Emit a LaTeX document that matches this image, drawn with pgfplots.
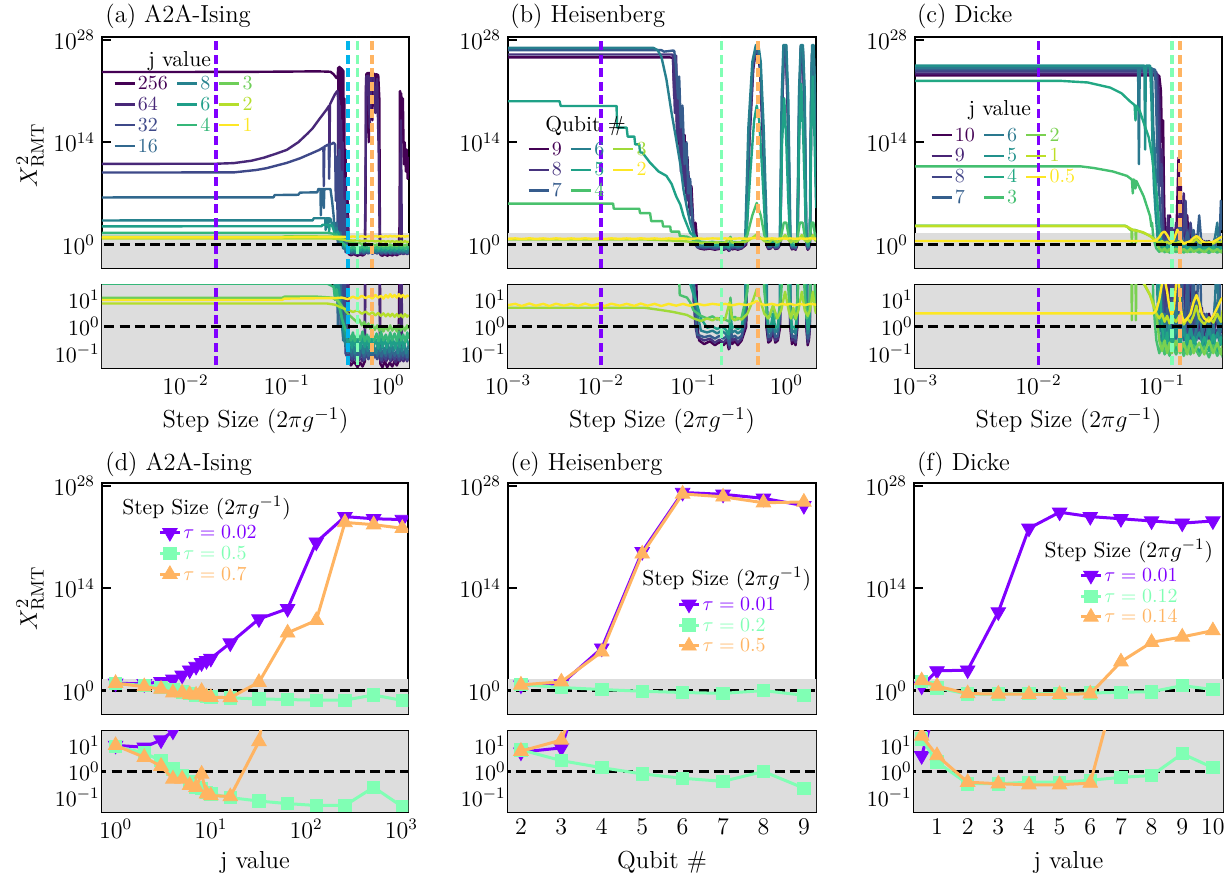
\documentclass[border=0pt]{standalone}
\usepackage{pgfplots}
\usepackage{pgfplotstable}
\pgfplotsset{compat=1.18}

% reference step sizes (rainbow colours)
\definecolor{purp}{HTML}{8000FF}
\definecolor{mint}{HTML}{80FFB4}
\definecolor{orng}{HTML}{FFB462}
\definecolor{cyn}{HTML}{00B4EB}
\definecolor{shade}{HTML}{DDDDDD}
% viridis, 10 colours (A2A-Ising, j = 256 ... 1)
\definecolor{va0}{HTML}{440154}\definecolor{va1}{HTML}{482878}\definecolor{va2}{HTML}{3E4989}
\definecolor{va3}{HTML}{31688E}\definecolor{va4}{HTML}{26828E}\definecolor{va5}{HTML}{1F9E89}
\definecolor{va6}{HTML}{35B779}\definecolor{va7}{HTML}{6ECE58}\definecolor{va8}{HTML}{B5DE2B}
\definecolor{va9}{HTML}{FDE725}
% viridis, 8 colours (Heisenberg, 9 ... 2 qubits)
\definecolor{vb0}{HTML}{440154}\definecolor{vb1}{HTML}{46337E}\definecolor{vb2}{HTML}{365C8D}
\definecolor{vb3}{HTML}{277F8E}\definecolor{vb4}{HTML}{1FA187}\definecolor{vb5}{HTML}{4AC16D}
\definecolor{vb6}{HTML}{A0DA39}\definecolor{vb7}{HTML}{FDE725}
% viridis, 11 colours (Dicke, j = 10 ... 0.5)
\definecolor{vc0}{HTML}{440154}\definecolor{vc1}{HTML}{482475}\definecolor{vc2}{HTML}{414487}
\definecolor{vc3}{HTML}{355F8D}\definecolor{vc4}{HTML}{2A788E}\definecolor{vc5}{HTML}{21918C}
\definecolor{vc6}{HTML}{22A884}\definecolor{vc7}{HTML}{44BF70}\definecolor{vc8}{HTML}{7AD151}
\definecolor{vc9}{HTML}{BDDF26}\definecolor{vc10}{HTML}{FDE725}

% ---------------- (a) A2A-Ising: chi^2 vs step size ----------------
\pgfplotstableread[row sep=\\]{x y\\
0.0015 4e23\\ 0.01 4.1e23\\ 0.05 4.3e23\\ 0.1 4.6e23\\ 0.2 5e23\\ 0.27 4.4e23\\ 0.29 2e23\\ 0.31 6e22\\ 0.318 1e23\\
0.322 1.6e24\\ 0.325 1e12\\ 0.328 2e24\\ 0.331 1e15\\ 0.334 2e24\\ 0.337 1e9\\ 0.340 1.6e24\\ 0.343 1e16\\ 0.346 1.3e24\\
0.350 1e6\\ 0.354 1e24\\ 0.358 1e3\\ 0.362 6e23\\ 0.366 10\\ 0.370 1e20\\ 0.375 0.3\\ 0.380 1e13\\ 0.390 0.08\\ 0.400 1e6\\ 0.410 0.05\\
0.43 0.035\\ 0.46 0.05\\ 0.50 0.03\\ 0.53 0.045\\ 0.56 0.032\\ 0.59 0.05\\ 0.60 1e6\\ 0.605 1e22\\ 0.61 2e23\\ 0.63 3e23\\
0.645 1e14\\ 0.655 3e23\\ 0.68 2.5e23\\ 0.70 1e17\\ 0.71 2.5e23\\ 0.74 2e23\\ 0.76 1e19\\ 0.77 2e23\\ 0.80 1.5e23\\ 0.82 1e20\\
0.83 1e3\\ 0.84 0.04\\ 0.88 0.03\\ 0.93 0.05\\ 0.98 0.03\\ 1.04 0.045\\ 1.10 0.032\\ 1.16 0.05\\ 1.22 0.035\\ 1.27 0.05\\
1.30 1e3\\ 1.31 1e21\\ 1.32 1e21\\ 1.33 1e12\\ 1.35 5e20\\ 1.37 1e14\\ 1.40 1e20\\ 1.43 1e11\\ 1.46 1e14\\ 1.50 1e10\\
1.53 1e13\\ 1.56 1e9\\ 1.60 1e12\\
}\tAa
\pgfplotstableread[row sep=\\]{x y\\
0.0015 1.1e11\\ 0.02 1.15e11\\ 0.03 1.4e11\\ 0.045 3e11\\ 0.06 8e11\\ 0.08 3e12\\ 0.1 9e12\\ 0.13 1e14\\ 0.16 1.5e15\\
0.18 8e15\\ 0.21 1.5e17\\ 0.245 2.5e18\\ 0.262 1e19\\ 0.264 1e12\\ 0.267 1.5e19\\ 0.28 6e19\\ 0.30 4e20\\ 0.315 1e21\\ 0.32 6e20\\
0.323 1e8\\ 0.327 5e19\\ 0.331 1e4\\ 0.335 1e19\\ 0.34 10\\ 0.345 1e17\\ 0.35 1\\ 0.357 1e14\\ 0.365 0.3\\ 0.375 1e9\\
0.385 0.1\\ 0.395 1e4\\ 0.41 0.07\\ 0.44 0.05\\ 0.47 0.08\\ 0.50 0.045\\ 0.53 0.07\\ 0.56 0.05\\ 0.59 0.08\\ 0.60 1e10\\
0.61 1e23\\ 0.64 1.2e23\\ 0.66 1e16\\ 0.68 1e23\\ 0.72 8e22\\ 0.75 1e18\\ 0.78 5e22\\ 0.81 1e12\\ 0.83 0.06\\ 0.87 0.045\\
0.91 0.07\\ 0.96 0.05\\ 1.01 0.08\\ 1.07 0.05\\ 1.13 0.07\\ 1.19 0.045\\ 1.25 0.07\\ 1.31 0.05\\ 1.34 1e17\\ 1.37 0.06\\
1.42 0.05\\ 1.48 0.08\\ 1.54 0.05\\ 1.60 0.07\\
}\tAb
\pgfplotstableread[row sep=\\]{x y\\
0.0015 7.2e9\\ 0.03 7.5e9\\ 0.05 1.6e10\\ 0.063 2.8e10\\ 0.1 1.5e11\\ 0.135 6.3e11\\ 0.17 2.5e12\\ 0.21 9e12\\ 0.23 2e13\\
0.232 1e8\\ 0.235 2.5e13\\ 0.25 4e13\\ 0.26 5e13\\ 0.262 1e9\\ 0.265 5e13\\ 0.28 6.3e13\\ 0.29 9e13\\ 0.30 5e13\\ 0.305 1e6\\
0.31 1e12\\ 0.32 10\\ 0.33 1e13\\ 0.34 1\\ 0.35 1e10\\ 0.36 0.5\\ 0.37 1e6\\ 0.38 0.1\\ 0.40 0.07\\ 0.42 0.09\\ 0.44 0.06\\
0.46 0.1\\ 0.48 0.055\\ 0.50 0.09\\ 0.52 0.06\\ 0.55 0.1\\ 0.58 0.055\\ 0.61 0.09\\ 0.64 0.06\\ 0.67 0.1\\ 0.70 0.055\\
0.74 0.09\\ 0.78 0.06\\ 0.82 0.1\\ 0.86 0.055\\ 0.90 0.09\\ 0.95 0.06\\ 1.00 0.1\\ 1.05 0.055\\ 1.10 0.09\\ 1.16 0.06\\
1.22 0.1\\ 1.28 0.055\\ 1.34 0.09\\ 1.40 0.06\\ 1.47 0.1\\ 1.54 0.055\\ 1.60 0.09\\
}\tAc
\pgfplotstableread[row sep=\\]{x y\\
0.0015 2.8e6\\ 0.074 2.9e6\\ 0.076 6e6\\ 0.13 6.5e6\\ 0.135 1.3e7\\ 0.2 1.4e7\\ 0.205 4e7\\ 0.215 4e7\\ 0.217 1e4\\
0.22 4e7\\ 0.23 4e7\\ 0.232 1e5\\ 0.235 4e7\\ 0.27 4e7\\ 0.28 1e6\\ 0.29 1e4\\ 0.30 10\\ 0.31 1e3\\ 0.32 1\\ 0.34 50\\
0.36 0.3\\ 0.38 5\\ 0.40 0.1\\ 0.42 0.14\\ 0.44 0.08\\ 0.46 0.15\\ 0.48 0.07\\ 0.50 0.13\\ 0.52 0.08\\ 0.55 0.15\\
0.58 0.075\\ 0.61 0.14\\ 0.64 0.08\\ 0.67 0.13\\ 0.70 0.07\\ 0.74 0.15\\ 0.78 0.08\\ 0.82 0.14\\ 0.86 0.075\\ 0.90 0.13\\
0.95 0.08\\ 1.00 0.15\\ 1.05 0.07\\ 1.10 0.14\\ 1.16 0.08\\ 1.22 0.13\\ 1.28 0.075\\ 1.34 0.15\\ 1.40 0.08\\ 1.47 0.14\\
1.54 0.07\\ 1.60 0.13\\
}\tAd
\pgfplotstableread[row sep=\\]{x y\\
0.0015 2e3\\ 0.18 2.05e3\\ 0.185 4e3\\ 0.24 4e3\\ 0.242 100\\ 0.245 4e3\\ 0.255 4e3\\ 0.257 200\\ 0.26 4e3\\ 0.27 3.5e3\\
0.28 500\\ 0.29 1e3\\ 0.30 50\\ 0.31 200\\ 0.32 5\\ 0.33 30\\ 0.35 1\\ 0.37 0.3\\ 0.39 0.15\\ 0.41 0.22\\ 0.43 0.11\\
0.45 0.25\\ 0.47 0.1\\ 0.49 0.2\\ 0.51 0.12\\ 0.54 0.25\\ 0.57 0.1\\ 0.60 0.22\\ 0.63 0.12\\ 0.66 0.25\\ 0.69 0.11\\
0.72 0.2\\ 0.76 0.1\\ 0.80 0.24\\ 0.84 0.12\\ 0.88 0.22\\ 0.93 0.1\\ 0.98 0.25\\ 1.03 0.11\\ 1.08 0.2\\ 1.13 0.12\\
1.19 0.25\\ 1.25 0.1\\ 1.31 0.22\\ 1.37 0.12\\ 1.44 0.24\\ 1.51 0.1\\ 1.60 0.2\\
}\tAe
\pgfplotstableread[row sep=\\]{x y\\
0.0015 316\\ 0.22 320\\ 0.225 500\\ 0.26 500\\ 0.262 50\\ 0.265 500\\ 0.28 400\\ 0.29 100\\ 0.30 20\\ 0.32 60\\ 0.34 5\\
0.36 1\\ 0.38 0.5\\ 0.40 0.25\\ 0.42 0.35\\ 0.44 0.16\\ 0.46 0.4\\ 0.48 0.18\\ 0.50 0.33\\ 0.53 0.15\\ 0.56 0.38\\ 0.59 0.17\\
0.62 0.35\\ 0.65 0.16\\ 0.68 0.4\\ 0.72 0.18\\ 0.76 0.33\\ 0.80 0.15\\ 0.84 0.38\\ 0.88 0.17\\ 0.92 0.35\\ 0.97 0.16\\
1.02 0.4\\ 1.07 0.18\\ 1.12 0.33\\ 1.18 0.15\\ 1.24 0.38\\ 1.30 0.17\\ 1.36 0.35\\ 1.43 0.16\\ 1.50 0.4\\ 1.60 0.2\\
}\tAf
\pgfplotstableread[row sep=\\]{x y\\
0.0015 40\\ 0.25 40\\ 0.27 35\\ 0.29 30\\ 0.30 10\\ 0.31 25\\ 0.33 5\\ 0.35 2\\ 0.38 0.8\\ 0.41 0.5\\ 0.43 0.3\\ 0.45 0.6\\
0.47 0.28\\ 0.50 0.55\\ 0.53 0.3\\ 0.56 0.65\\ 0.59 0.28\\ 0.62 0.5\\ 0.65 0.27\\ 0.69 0.6\\ 0.73 0.3\\ 0.77 0.55\\ 0.81 0.28\\
0.85 0.65\\ 0.90 0.3\\ 0.95 0.5\\ 1.00 0.27\\ 1.05 0.6\\ 1.10 0.3\\ 1.16 0.55\\ 1.22 0.28\\ 1.28 0.65\\ 1.34 0.3\\ 1.41 0.5\\
1.48 0.27\\ 1.55 0.6\\ 1.60 0.35\\
}\tAg
\pgfplotstableread[row sep=\\]{x y\\
0.0015 11.7\\ 0.09 11.7\\ 0.095 13\\ 0.2 13\\ 0.28 12\\ 0.32 9\\ 0.36 5\\ 0.40 3\\ 0.45 2\\ 0.50 1.4\\ 0.52 1.8\\ 0.55 1.1\\
0.58 1.5\\ 0.61 0.9\\ 0.64 1.3\\ 0.67 0.8\\ 0.70 1.2\\ 0.74 0.75\\ 0.78 1.1\\ 0.82 0.7\\ 0.86 1.0\\ 0.90 0.65\\ 0.95 1.0\\
1.00 0.7\\ 1.05 1.1\\ 1.10 0.7\\ 1.16 1.0\\ 1.22 0.65\\ 1.28 1.1\\ 1.34 0.7\\ 1.40 1.0\\ 1.47 0.7\\ 1.54 1.1\\ 1.60 0.8\\
}\tAh
\pgfplotstableread[row sep=\\]{x y\\
0.0015 7.2\\ 0.25 7.2\\ 0.30 6.5\\ 0.35 5\\ 0.40 4.2\\ 0.45 3.5\\ 0.50 4\\ 0.55 3\\ 0.60 3.6\\ 0.65 2.8\\ 0.70 3.4\\ 0.75 2.6\\
0.80 3.2\\ 0.85 2.5\\ 0.90 3.1\\ 0.95 2.4\\ 1.00 3\\ 1.05 2.4\\ 1.10 3\\ 1.16 2.3\\ 1.22 2.9\\ 1.28 2.3\\ 1.34 2.8\\ 1.40 2.2\\
1.47 2.9\\ 1.54 2.3\\ 1.60 2.7\\
}\tAi
\pgfplotstableread[row sep=\\]{x y\\
0.0015 9.8\\ 0.09 9.8\\ 0.095 11\\ 0.30 11.5\\ 0.35 12\\ 0.40 10.5\\ 0.45 13\\ 0.50 11\\ 0.55 14\\ 0.60 11.5\\ 0.65 13.5\\
0.70 11\\ 0.75 15\\ 0.80 12\\ 0.85 14\\ 0.90 11\\ 0.95 15\\ 1.00 12\\ 1.05 16\\ 1.10 12.5\\ 1.16 15\\ 1.22 12\\ 1.28 16\\
1.34 12.5\\ 1.40 15\\ 1.47 12\\ 1.54 14.5\\ 1.60 13\\
}\tAj

% ---------------- (b) Heisenberg: chi^2 vs step size ----------------
\pgfplotstableread[row sep=\\]{x y\\
0.001 4e25\\ 0.056 4e25\\ 0.06 3.5e25\\ 0.062 1e20\\ 0.064 3e25\\ 0.066 1e16\\ 0.068 1e22\\ 0.071 1e12\\ 0.074 1e18\\ 0.077 1e9\\
0.08 1e15\\ 0.083 1e7\\ 0.086 1e12\\ 0.09 1e5\\ 0.095 1e8\\ 0.1 100\\ 0.105 1e3\\ 0.11 1\\ 0.115 0.3\\ 0.13 0.22\\ 0.15 0.28\\
0.17 0.2\\ 0.19 0.26\\ 0.21 0.2\\ 0.23 0.28\\ 0.24 0.14\\ 0.25 0.6\\ 0.26 0.22\\ 0.28 0.28\\ 0.30 0.2\\ 0.33 0.3\\ 0.37 1\\
0.40 1e14\\ 0.44 1e24\\ 0.48 2e27\\ 0.52 1e24\\ 0.56 1e14\\ 0.61 1\\ 0.64 0.25\\ 0.68 0.3\\ 0.72 0.8\\ 0.76 0.25\\ 0.81 0.3\\
0.86 1\\ 0.90 1e17\\ 0.94 1.5e27\\ 0.99 1.5e27\\ 1.04 1e17\\ 1.10 1\\ 1.15 0.22\\ 1.20 0.3\\ 1.26 0.2\\ 1.32 1\\ 1.38 1e18\\
1.44 1.5e27\\ 1.50 1.5e27\\ 1.57 1e18\\ 1.64 1\\ 1.70 0.2\\ 1.75 0.3\\ 1.80 1\\ 1.86 1e20\\ 1.91 1.5e27\\ 1.96 1.5e27\\
2.02 1e20\\ 2.10 1e6\\
}\tBa
\pgfplotstableread[row sep=\\]{x y\\
0.001 1e26\\ 0.058 1e26\\ 0.06 9e25\\ 0.063 1e18\\ 0.065 7e25\\ 0.067 1e14\\ 0.07 1e21\\ 0.073 1e10\\ 0.076 1e16\\ 0.079 1e8\\
0.082 1e13\\ 0.085 1e6\\ 0.088 1e10\\ 0.092 1e4\\ 0.097 1e5\\ 0.1 10\\ 0.105 1\\ 0.11 0.4\\ 0.13 0.3\\ 0.15 0.35\\ 0.17 0.25\\
0.19 0.32\\ 0.21 0.25\\ 0.23 0.35\\ 0.245 0.15\\ 0.25 0.8\\ 0.26 0.3\\ 0.28 0.35\\ 0.30 0.25\\ 0.33 0.35\\ 0.37 2\\ 0.40 1e15\\
0.44 5e24\\ 0.48 1.5e27\\ 0.52 5e24\\ 0.56 1e15\\ 0.61 2\\ 0.64 0.3\\ 0.68 0.35\\ 0.72 1\\ 0.76 0.3\\ 0.81 0.35\\ 0.86 2\\
0.90 1e18\\ 0.94 1.2e27\\ 0.99 1.2e27\\ 1.04 1e18\\ 1.10 2\\ 1.15 0.3\\ 1.20 0.35\\ 1.26 0.25\\ 1.32 2\\ 1.38 1e19\\
1.44 1.2e27\\ 1.50 1.2e27\\ 1.57 1e19\\ 1.64 2\\ 1.70 0.25\\ 1.75 0.35\\ 1.80 2\\ 1.86 1e21\\ 1.91 1.2e27\\ 1.96 1.2e27\\
2.02 1e21\\ 2.10 1e8\\
}\tBb
\pgfplotstableread[row sep=\\]{x y\\
0.001 4e26\\ 0.045 4e26\\ 0.048 2.5e26\\ 0.055 3e26\\ 0.06 3.5e26\\ 0.062 3e26\\ 0.065 1e24\\ 0.068 1e20\\ 0.07 1e23\\
0.073 1e16\\ 0.076 1e19\\ 0.08 1e11\\ 0.084 1e14\\ 0.088 1e7\\ 0.092 1e9\\ 0.097 1e3\\ 0.1 100\\ 0.105 3\\ 0.11 0.5\\
0.13 0.4\\ 0.15 0.45\\ 0.17 0.35\\ 0.19 0.45\\ 0.21 0.35\\ 0.23 0.45\\ 0.245 0.2\\ 0.25 1\\ 0.26 0.4\\ 0.28 0.45\\ 0.30 0.35\\
0.33 0.45\\ 0.37 3\\ 0.40 1e16\\ 0.44 1e25\\ 0.48 1.2e27\\ 0.52 1e25\\ 0.56 1e16\\ 0.61 3\\ 0.64 0.4\\ 0.68 0.45\\ 0.72 1.3\\
0.76 0.4\\ 0.81 0.45\\ 0.86 3\\ 0.90 1e19\\ 0.94 1e27\\ 0.99 1e27\\ 1.04 1e19\\ 1.10 3\\ 1.15 0.4\\ 1.20 0.45\\ 1.26 0.35\\
1.32 3\\ 1.38 1e20\\ 1.44 1e27\\ 1.50 1e27\\ 1.57 1e20\\ 1.64 3\\ 1.70 0.35\\ 1.75 0.45\\ 1.80 3\\ 1.86 1e22\\ 1.91 1e27\\
1.96 1e27\\ 2.02 1e22\\ 2.10 1e10\\
}\tBc
\pgfplotstableread[row sep=\\]{x y\\
0.001 8e26\\ 0.037 8e26\\ 0.041 4e26\\ 0.045 5e25\\ 0.051 4e22\\ 0.058 1e18\\ 0.065 2.5e14\\ 0.072 1e11\\ 0.078 3e7\\
0.085 1e5\\ 0.092 1e3\\ 0.1 30\\ 0.105 12\\ 0.11 3\\ 0.12 0.7\\ 0.14 0.6\\ 0.16 0.7\\ 0.18 0.55\\ 0.20 0.7\\ 0.22 0.55\\
0.24 0.35\\ 0.25 1.5\\ 0.26 0.6\\ 0.28 0.7\\ 0.30 0.55\\ 0.33 0.7\\ 0.36 5\\ 0.39 1e16\\ 0.43 1e25\\ 0.47 2e27\\ 0.50 2e27\\
0.53 1e25\\ 0.57 1e16\\ 0.62 5\\ 0.65 0.6\\ 0.68 0.7\\ 0.72 2\\ 0.76 0.6\\ 0.80 0.7\\ 0.85 5\\ 0.89 1e20\\ 0.93 2e27\\
1.00 2e27\\ 1.05 1e20\\ 1.11 5\\ 1.15 0.6\\ 1.20 0.7\\ 1.26 0.55\\ 1.31 5\\ 1.37 1e21\\ 1.43 2e27\\ 1.51 2e27\\ 1.58 1e21\\
1.65 5\\ 1.70 0.55\\ 1.75 0.7\\ 1.79 5\\ 1.85 1e22\\ 1.90 2e27\\ 1.97 2e27\\ 2.03 1e22\\ 2.10 1e12\\
}\tBd
\pgfplotstableread[row sep=\\]{x y\\
0.001 4e19\\ 0.0036 4e19\\ 0.0037 9e18\\ 0.0148 9e18\\ 0.015 1e16\\ 0.019 1e16\\ 0.0195 6e14\\ 0.023 6e14\\ 0.0235 5e13\\
0.026 5e13\\ 0.0265 4e12\\ 0.028 4e12\\ 0.034 1.6e11\\ 0.042 1e10\\ 0.051 2.5e9\\ 0.058 2e8\\ 0.065 4e6\\ 0.072 3e5\\
0.078 8e3\\ 0.085 500\\ 0.092 40\\ 0.1 15\\ 0.11 6\\ 0.12 2\\ 0.14 0.9\\ 0.16 1\\ 0.18 0.8\\ 0.20 1\\ 0.22 0.8\\ 0.24 0.5\\
0.25 3\\ 0.26 0.9\\ 0.28 1\\ 0.30 0.8\\ 0.33 1\\ 0.37 10\\ 0.41 1e10\\ 0.45 1e17\\ 0.48 1e19\\ 0.51 1e17\\ 0.55 1e10\\
0.60 10\\ 0.64 0.9\\ 0.68 1\\ 0.72 3\\ 0.76 0.9\\ 0.81 1\\ 0.86 5\\ 0.90 1e14\\ 0.95 1e20\\ 1.00 1e14\\ 1.05 1e6\\ 1.10 5\\
1.15 0.9\\ 1.20 1\\ 1.26 0.8\\ 1.32 5\\ 1.38 1e15\\ 1.45 1e22\\ 1.52 1e15\\ 1.60 1e5\\ 1.64 5\\ 1.70 0.8\\ 1.75 1\\ 1.80 5\\
1.86 1e16\\ 1.93 1e23\\ 2.00 1e16\\ 2.10 1e5\\
}\tBe
\pgfplotstableread[row sep=\\]{x y\\
0.001 4e5\\ 0.0136 4e5\\ 0.0138 8e4\\ 0.026 8e4\\ 0.0265 2e4\\ 0.034 2e4\\ 0.035 1.6e3\\ 0.046 1.6e3\\ 0.047 300\\ 0.056 300\\
0.057 60\\ 0.07 60\\ 0.071 15\\ 0.085 12\\ 0.092 8\\ 0.1 4\\ 0.12 2.5\\ 0.14 2\\ 0.16 2.4\\ 0.18 1.8\\ 0.20 2.2\\ 0.22 1.8\\
0.245 1.5\\ 0.25 12\\ 0.26 2\\ 0.28 2.3\\ 0.30 1.8\\ 0.33 2.2\\ 0.38 20\\ 0.43 1e4\\ 0.48 5e5\\ 0.53 1e4\\ 0.58 20\\ 0.62 2\\
0.67 2.4\\ 0.72 6\\ 0.77 2\\ 0.82 2.4\\ 0.88 15\\ 0.94 1e3\\ 1.00 1e3\\ 1.06 15\\ 1.12 2\\ 1.20 2.4\\ 1.26 1.8\\ 1.33 15\\
1.40 1e3\\ 1.50 1e3\\ 1.58 15\\ 1.66 2\\ 1.72 2.4\\ 1.80 15\\ 1.88 1e3\\ 1.96 1e3\\ 2.04 15\\ 2.10 5\\
}\tBf
\pgfplotstableread[row sep=\\]{x y\\
0.001 5\\ 0.03 5\\ 0.047 4\\ 0.06 3.5\\ 0.085 2.7\\ 0.1 2\\ 0.12 1.6\\ 0.14 2\\ 0.16 1.7\\ 0.18 2.1\\ 0.20 1.6\\ 0.22 2\\
0.245 8\\ 0.26 2\\ 0.28 1.7\\ 0.30 2.1\\ 0.33 1.8\\ 0.38 3\\ 0.44 10\\ 0.48 25\\ 0.52 10\\ 0.58 3\\ 0.64 2\\ 0.72 6\\ 0.80 2\\
0.88 4\\ 0.97 20\\ 1.06 4\\ 1.12 2\\ 1.19 5\\ 1.26 2\\ 1.35 4\\ 1.47 20\\ 1.58 4\\ 1.70 2.5\\ 1.80 4\\ 1.93 20\\ 2.05 4\\ 2.10 3\\
}\tBg
\pgfplotstableread[row sep=\\]{x y\\
0.001 6.3\\ 0.0012 7\\ 0.0014 5.8\\ 0.0017 7.2\\ 0.002 6\\ 0.0024 7\\ 0.0028 5.8\\ 0.0033 7.1\\ 0.004 6\\ 0.0048 7\\
0.0057 5.9\\ 0.0068 7.2\\ 0.008 6\\ 0.0095 7\\ 0.011 5.8\\ 0.013 7.1\\ 0.016 6\\ 0.019 7\\ 0.023 5.9\\ 0.027 7.2\\ 0.032 6\\
0.038 7\\ 0.045 5.8\\ 0.054 7\\ 0.065 6\\ 0.077 7\\ 0.09 6\\ 0.11 7\\ 0.13 6.2\\ 0.16 7\\ 0.19 6.5\\ 0.22 7\\ 0.26 6.2\\
0.31 7\\ 0.37 6.3\\ 0.44 7.5\\ 0.48 9\\ 0.52 7\\ 0.60 6.3\\ 0.70 7\\ 0.80 6.2\\ 0.90 7\\ 1.00 6.5\\ 1.10 7\\ 1.25 6.2\\
1.40 7\\ 1.60 6.3\\ 1.80 7\\ 2.10 6.5\\
}\tBh

% ---------------- (c) Dicke: chi^2 vs step size ----------------
\pgfplotstableread[row sep=\\]{x y\\
0.001 1.4e23\\ 0.09 1.4e23\\ 0.095 1.2e23\\ 0.098 1e21\\ 0.1 1e14\\ 0.102 1e17\\ 0.104 1e6\\ 0.106 3\\ 0.108 0.5\\ 0.11 50\\
0.113 0.6\\ 0.116 1e4\\ 0.12 0.5\\ 0.125 100\\ 0.13 0.6\\ 0.133 1e6\\ 0.136 8e11\\ 0.139 1e5\\ 0.142 1e8\\ 0.145 10\\
0.15 1e5\\ 0.155 1\\ 0.16 1e4\\ 0.165 0.6\\ 0.17 300\\ 0.18 0.5\\ 0.19 20\\ 0.20 0.6\\ 0.21 5\\ 0.22 0.4\\ 0.24 3\\ 0.26 0.5\\
0.28 2\\ 0.30 0.6\\ 0.31 1\\
}\tCa
\pgfplotstableread[row sep=\\]{x y\\
0.001 2.5e23\\ 0.088 2.5e23\\ 0.092 2e23\\ 0.095 1e20\\ 0.098 1e10\\ 0.1 1e13\\ 0.102 1e4\\ 0.105 1\\ 0.108 0.4\\ 0.112 1e4\\
0.116 0.5\\ 0.12 50\\ 0.125 0.4\\ 0.13 1e3\\ 0.135 0.5\\ 0.14 1e6\\ 0.145 0.6\\ 0.15 1e7\\ 0.155 0.5\\ 0.16 100\\ 0.17 0.4\\
0.18 10\\ 0.19 0.5\\ 0.20 2\\ 0.22 0.4\\ 0.25 1\\ 0.28 0.4\\ 0.31 0.8\\
}\tCb
\pgfplotstableread[row sep=\\]{x y\\
0.001 5e23\\ 0.087 5e23\\ 0.09 4e23\\ 0.093 1e19\\ 0.096 1e8\\ 0.099 1e11\\ 0.102 100\\ 0.105 0.4\\ 0.11 20\\ 0.115 0.3\\
0.12 1e3\\ 0.125 0.4\\ 0.13 30\\ 0.14 0.3\\ 0.15 100\\ 0.155 1e6\\ 0.16 0.4\\ 0.17 1e3\\ 0.18 0.3\\ 0.19 5\\ 0.20 0.35\\
0.22 3\\ 0.24 0.3\\ 0.27 0.8\\ 0.30 0.35\\ 0.31 0.5\\
}\tCc
\pgfplotstableread[row sep=\\]{x y\\
0.001 1e24\\ 0.085 1e24\\ 0.088 8e23\\ 0.09 1e18\\ 0.093 1e9\\ 0.096 1e6\\ 0.1 10\\ 0.105 0.3\\ 0.11 5\\ 0.115 0.25\\
0.12 10\\ 0.13 0.3\\ 0.14 1e3\\ 0.15 0.3\\ 0.16 50\\ 0.17 0.25\\ 0.18 100\\ 0.19 0.3\\ 0.20 1e4\\ 0.21 0.3\\ 0.23 3\\
0.25 0.25\\ 0.27 10\\ 0.29 0.3\\ 0.30 1e6\\ 0.31 100\\
}\tCd
\pgfplotstableread[row sep=\\]{x y\\
0.001 1.6e24\\ 0.064 1.6e24\\ 0.065 1e11\\ 0.066 1.6e24\\ 0.08 1.6e24\\ 0.083 1.2e24\\ 0.085 1e16\\ 0.088 1e12\\ 0.09 1e7\\
0.093 1e4\\ 0.096 5\\ 0.1 0.3\\ 0.105 3\\ 0.11 0.25\\ 0.115 2\\ 0.12 0.2\\ 0.13 5\\ 0.14 0.25\\ 0.15 2\\ 0.16 0.2\\ 0.17 1\\
0.18 0.25\\ 0.20 3\\ 0.22 0.2\\ 0.24 2\\ 0.26 0.25\\ 0.28 1e3\\ 0.29 0.3\\ 0.31 3\\
}\tCe
\pgfplotstableread[row sep=\\]{x y\\
0.001 3e24\\ 0.072 3e24\\ 0.073 1e13\\ 0.074 3e24\\ 0.08 3e24\\ 0.082 1e20\\ 0.084 1e13\\ 0.086 1e8\\ 0.089 1e4\\ 0.092 10\\
0.095 0.5\\ 0.1 0.2\\ 0.105 1\\ 0.11 0.2\\ 0.115 1.5\\ 0.12 0.15\\ 0.13 1\\ 0.14 0.2\\ 0.15 0.8\\ 0.16 0.15\\ 0.17 1\\
0.18 0.2\\ 0.20 0.6\\ 0.22 0.15\\ 0.24 0.8\\ 0.26 0.2\\ 0.28 0.6\\ 0.30 0.2\\ 0.31 0.5\\
}\tCf
\pgfplotstableread[row sep=\\]{x y\\
0.001 2.5e22\\ 0.015 2.5e22\\ 0.025 1.5e22\\ 0.038 3e21\\ 0.047 5e20\\ 0.055 4e19\\ 0.06 1.2e19\\ 0.061 1e17\\ 0.062 1e19\\
0.066 2e18\\ 0.071 5e16\\ 0.078 5e14\\ 0.083 1.3e12\\ 0.087 1e9\\ 0.091 4e6\\ 0.094 1e3\\ 0.097 12\\ 0.1 1\\ 0.105 0.15\\
0.11 0.6\\ 0.115 0.12\\ 0.12 0.5\\ 0.13 0.12\\ 0.14 0.4\\ 0.15 0.1\\ 0.16 0.5\\ 0.17 0.12\\ 0.18 0.4\\ 0.20 0.1\\ 0.22 0.4\\
0.24 0.12\\ 0.26 0.5\\ 0.28 0.1\\ 0.30 0.4\\ 0.31 0.2\\
}\tCg
\pgfplotstableread[row sep=\\]{x y\\
0.001 5e10\\ 0.022 5e10\\ 0.028 3e10\\ 0.04 1e10\\ 0.052 2.5e9\\ 0.057 8e8\\ 0.058 1e7\\ 0.059 8e8\\ 0.06 6e8\\ 0.061 5e7\\
0.062 5e8\\ 0.071 4e6\\ 0.078 3e4\\ 0.08 8e3\\ 0.082 300\\ 0.083 1e3\\ 0.085 10\\ 0.088 1\\ 0.09 0.3\\ 0.095 0.1\\ 0.1 0.25\\
0.105 0.09\\ 0.11 0.2\\ 0.115 0.08\\ 0.12 0.22\\ 0.13 0.09\\ 0.14 0.2\\ 0.15 0.08\\ 0.16 0.18\\ 0.17 0.09\\ 0.18 0.2\\
0.20 0.08\\ 0.22 0.18\\ 0.24 0.07\\ 0.26 0.2\\ 0.28 0.08\\ 0.30 0.15\\ 0.31 0.07\\
}\tCh
\pgfplotstableread[row sep=\\]{x y\\
0.001 400\\ 0.05 400\\ 0.052 300\\ 0.055 110\\ 0.0565 110\\ 0.057 1.7\\ 0.0575 110\\ 0.061 100\\ 0.0615 1.7\\ 0.062 90\\
0.071 40\\ 0.08 15\\ 0.085 8\\ 0.09 3\\ 0.095 0.3\\ 0.1 0.12\\ 0.105 0.3\\ 0.11 0.1\\ 0.115 0.25\\ 0.12 0.1\\ 0.13 0.3\\
0.14 0.1\\ 0.15 0.25\\ 0.16 0.09\\ 0.17 0.3\\ 0.18 0.1\\ 0.20 0.25\\ 0.22 0.09\\ 0.24 0.3\\ 0.26 0.1\\ 0.28 0.25\\ 0.30 0.09\\
0.31 0.2\\
}\tCi
\pgfplotstableread[row sep=\\]{x y\\
0.001 320\\ 0.05 320\\ 0.053 250\\ 0.058 100\\ 0.07 50\\ 0.08 15\\ 0.085 6\\ 0.09 3\\ 0.095 2\\ 0.1 3\\ 0.105 1.5\\ 0.11 2.5\\
0.115 1.3\\ 0.12 2.2\\ 0.13 1.5\\ 0.14 2.8\\ 0.15 1.2\\ 0.16 2\\ 0.17 1.4\\ 0.18 2.5\\ 0.19 6\\ 0.20 2\\ 0.22 1.2\\ 0.24 2.2\\
0.26 1.4\\ 0.28 3\\ 0.30 1.5\\ 0.31 4\\
}\tCj
\pgfplotstableread[row sep=\\]{x y\\
0.001 3.1\\ 0.085 3.1\\ 0.09 4\\ 0.095 10\\ 0.1 40\\ 0.105 60\\ 0.11 20\\ 0.115 5\\ 0.12 2.5\\ 0.125 5\\ 0.13 40\\
0.133 110\\ 0.137 40\\ 0.14 8\\ 0.145 2.5\\ 0.15 1.5\\ 0.16 2\\ 0.17 3\\ 0.18 8\\ 0.19 15\\ 0.20 8\\ 0.21 3\\ 0.22 2\\
0.24 1.5\\ 0.26 2.5\\ 0.28 5\\ 0.30 10\\ 0.31 12\\
}\tCk

% ---------------- (d)-(f): chi^2 at fixed step sizes ----------------
\pgfplotstableread[row sep=\\]{j pu mi or\\
1 10 9 10\\ 2 8.5 5.2 3.5\\ 3 16 2.6 1.6\\ 4 35 1.26 0.52\\ 5 126 0.7 0.52\\ 6 630 0.4 0.3\\ 7 2000 0.25 0.25\\
8 6300 0.22 0.8\\ 9 1.26e4 0.16 0.14\\ 10 2.5e4 0.14 0.12\\ 16 3.2e6 0.1 0.11\\ 32 6.3e9 0.074 14\\
64 1.6e11 0.059 8e7\\ 128 2e20 0.05 4e9\\ 256 6.3e23 0.05 1e23\\ 512 3.2e23 0.25 5e22\\ 1024 2.5e23 0.045 1.6e22\\
}\tD
\pgfplotstableread[row sep=\\]{q pu mi or\\
2 5.5 6.8 6\\ 3 8 2.6 16\\ 4 6.3e5 1.4 2e5\\ 5 1e19 0.81 5e18\\ 6 1.26e27 0.55 8e26\\ 7 7e26 0.42 3.2e26\\
8 2e26 1.0 5e25\\ 9 2e25 0.23 6.3e25\\
}\tE
\pgfplotstableread[row sep=\\]{j pu mi or\\
0.5 4 17.8 23\\ 1 500 2.3 4.1\\ 2 630 0.34 0.39\\ 3 5.6e10 0.34 0.34\\ 4 1.6e22 0.39 0.31\\ 5 2.5e24 0.39 0.31\\
6 6.3e23 0.46 0.36\\ 7 3.2e23 0.6 8.9e3\\ 8 1.6e23 0.7 4e6\\ 9 8e22 4.8 2.2e7\\ 10 1.6e23 1.4 1.6e8\\
}\tF

% shared look of every axis and legend
\pgfplotsset{
  every axis/.append style={scale only axis, tick align=inside,
    axis line style={line width=1.1pt},
    major tick length=4.5pt, minor tick length=2.5pt,
    tick label style={font=\fontsize{12}{14}\selectfont},
    clip marker paths=true, legend cell align=left},
  every tick/.append style={black, line width=0.9pt},
  every axis legend/.append style={draw=none, fill=none, inner sep=0pt,
    font=\fontsize{10}{12}\selectfont, row sep=0.4pt,
    nodes={inner sep=1pt, text height=7pt, text depth=1pt},
    /tikz/every even column/.append style={column sep=3pt}},
}
\tikzset{
  rsln/.style={line width=1.2pt, line join=round},
  rspu/.style={purp, line width=1.5pt, mark=triangle*, mark size=4.2pt, mark options={rotate=180, line width=0.4pt}},
  rsmi/.style={mint, line width=1.5pt, mark=square*, mark size=3.1pt, mark options={line width=0.4pt}},
  rsor/.style={orng, line width=1.5pt, mark=triangle*, mark size=4.2pt, mark options={line width=0.4pt}},
  rssmall/.style={font=\fontsize{11.3}{13}\selectfont, inner sep=1pt},
}

\newcommand{\shadeband}[2]{\addplot[forget plot, fill=shade, draw=none] coordinates {(#1,1e-5) (#2,1e-5) (#2,35.5) (#1,35.5)} -- cycle;}
\newcommand{\unitline}[2]{\addplot[forget plot, black, line width=1.8pt, dash pattern=on 5pt off 2.6pt] coordinates {(#1,1) (#2,1)};}
\newcommand{\taulin}[2]{\addplot[forget plot, #1, line width=1.9pt, dash pattern=on 4.5pt off 2.3pt] coordinates {(#2,1e-5) (#2,1e30)};}

\newcommand{\curvesA}{%
  \addplot[forget plot, rsln, va0] table {\tAa}; \addplot[forget plot, rsln, va1] table {\tAb};
  \addplot[forget plot, rsln, va2] table {\tAc}; \addplot[forget plot, rsln, va3] table {\tAd};
  \addplot[forget plot, rsln, va4] table {\tAe}; \addplot[forget plot, rsln, va5] table {\tAf};
  \addplot[forget plot, rsln, va6] table {\tAg}; \addplot[forget plot, rsln, va7] table {\tAh};
  \addplot[forget plot, rsln, va8] table {\tAi}; \addplot[forget plot, rsln, va9] table {\tAj};
  \taulin{purp}{0.02}\taulin{cyn}{0.4}\taulin{mint}{0.5}\taulin{orng}{0.7}
  \unitline{1e-4}{10}}
\newcommand{\curvesB}{%
  \addplot[forget plot, rsln, vb0] table {\tBa}; \addplot[forget plot, rsln, vb1] table {\tBb};
  \addplot[forget plot, rsln, vb2] table {\tBc}; \addplot[forget plot, rsln, vb3] table {\tBd};
  \addplot[forget plot, rsln, vb4] table {\tBe}; \addplot[forget plot, rsln, vb5] table {\tBf};
  \addplot[forget plot, rsln, vb6] table {\tBg}; \addplot[forget plot, rsln, vb7] table {\tBh};
  \taulin{purp}{0.01}\taulin{mint}{0.2}\taulin{orng}{0.5}
  \unitline{1e-4}{10}}
\newcommand{\curvesC}{%
  \addplot[forget plot, rsln, vc0] table {\tCa}; \addplot[forget plot, rsln, vc1] table {\tCb};
  \addplot[forget plot, rsln, vc2] table {\tCc}; \addplot[forget plot, rsln, vc3] table {\tCd};
  \addplot[forget plot, rsln, vc4] table {\tCe}; \addplot[forget plot, rsln, vc5] table {\tCf};
  \addplot[forget plot, rsln, vc6] table {\tCg}; \addplot[forget plot, rsln, vc7] table {\tCh};
  \addplot[forget plot, rsln, vc8] table {\tCi}; \addplot[forget plot, rsln, vc9] table {\tCj};
  \addplot[forget plot, rsln, vc10] table {\tCk};
  \taulin{purp}{0.01}\taulin{mint}{0.12}\taulin{orng}{0.14}
  \unitline{1e-4}{10}}
\newcommand{\markersD}[2]{%
  \addplot[rspu] table[x=#1, y=pu] {#2}; \addplot[rsmi] table[x=#1, y=mi] {#2}; \addplot[rsor] table[x=#1, y=or] {#2};}

\newcommand{\lab}{\fontsize{12.3}{14}\selectfont}
\newcommand{\legt}{\fontsize{10.8}{12}\selectfont}

\begin{document}
\begin{tikzpicture}
\useasboundingbox (0,0) rectangle (615.5pt,440.5pt);

% ===== (a) =====
\begin{axis}[at={(51pt,306.5pt)}, anchor=south west, width=153.5pt, height=115.5pt,
  xmode=log, xmin=0.0015, xmax=1.61,
  ymode=log, ymin=6.3e-4, ymax=2.5e28, ytick={1,1e14,1e28}, yminorticks=false,
  xtick pos=left, ytick pos=left, xticklabels={},
  legend columns=3, legend style={at={(0.036,0.843)}, anchor=north west},
  legend image code/.code={\draw[#1, line width=1.2pt] (0pt,0pt) -- (10pt,0pt);}]
\shadeband{1e-4}{10}
\curvesA
\addlegendimage{va0}\addlegendentry[text=va0]{256}
\addlegendimage{va4}\addlegendentry[text=va4]{8}
\addlegendimage{va7}\addlegendentry[text=va7]{3}
\addlegendimage{va1}\addlegendentry[text=va1]{64}
\addlegendimage{va5}\addlegendentry[text=va5]{6}
\addlegendimage{va8}\addlegendentry[text=va8]{2}
\addlegendimage{va2}\addlegendentry[text=va2]{32}
\addlegendimage{va6}\addlegendentry[text=va6]{4}
\addlegendimage{va9}\addlegendentry[text=va9]{1}
\addlegendimage{va3}\addlegendentry[text=va3]{16}
\node[anchor=west, font=\legt, inner sep=0pt] at (rel axis cs:0.15,0.895) {j value};
\end{axis}
\begin{axis}[at={(51pt,256.5pt)}, anchor=south west, width=153.5pt, height=41.5pt,
  xmode=log, xmin=0.0015, xmax=1.61, yticklabel style={rssmall},
  ymode=log, ymin=0.0282, ymax=35.5, ytick={0.1,1,10}, xtick pos=both, ytick pos=left]
\shadeband{1e-4}{10}
\curvesA
\end{axis}

% ===== (b) =====
\begin{axis}[at={(254pt,306.5pt)}, anchor=south west, width=154pt, height=115.5pt,
  xmode=log, xmin=0.001, xmax=2.09,
  ymode=log, ymin=6.3e-4, ymax=2.5e28, ytick={1,1e14,1e28}, yminorticks=false,
  xtick pos=left, ytick pos=left, xticklabels={},
  legend columns=3, legend style={at={(0.062,0.56)}, anchor=north west},
  legend image code/.code={\draw[#1, line width=1.2pt] (0pt,0pt) -- (10pt,0pt);}]
\shadeband{1e-4}{10}
\curvesB
\addlegendimage{vb0}\addlegendentry[text=vb0]{9}
\addlegendimage{vb3}\addlegendentry[text=vb3]{6}
\addlegendimage{vb6}\addlegendentry[text=vb6]{3}
\addlegendimage{vb1}\addlegendentry[text=vb1]{8}
\addlegendimage{vb4}\addlegendentry[text=vb4]{5}
\addlegendimage{vb7}\addlegendentry[text=vb7]{2}
\addlegendimage{vb2}\addlegendentry[text=vb2]{7}
\addlegendimage{vb5}\addlegendentry[text=vb5]{4}
\node[anchor=west, font=\legt, inner sep=0pt] at (rel axis cs:0.12,0.615) {Qubit \#};
\end{axis}
\begin{axis}[at={(254pt,256.5pt)}, anchor=south west, width=154pt, height=41.5pt,
  xmode=log, xmin=0.001, xmax=2.09, yticklabel style={rssmall},
  ymode=log, ymin=0.0282, ymax=35.5, ytick={0.1,1,10}, xtick pos=both, ytick pos=left]
\shadeband{1e-4}{10}
\curvesB
\end{axis}

% ===== (c) =====
\begin{axis}[at={(457.5pt,306.5pt)}, anchor=south west, width=153.5pt, height=115.5pt,
  xmode=log, xmin=0.001, xmax=0.306,
  ymode=log, ymin=6.3e-4, ymax=2.5e28, ytick={1,1e14,1e28}, yminorticks=false,
  xtick pos=left, ytick pos=left, xticklabels={},
  legend columns=3, legend style={at={(0.049,0.62)}, anchor=north west},
  legend image code/.code={\draw[#1, line width=1.2pt] (0pt,0pt) -- (10pt,0pt);}]
\shadeband{1e-4}{10}
\curvesC
\addlegendimage{vc0}\addlegendentry[text=vc0]{10}
\addlegendimage{vc4}\addlegendentry[text=vc4]{6}
\addlegendimage{vc8}\addlegendentry[text=vc8]{2}
\addlegendimage{vc1}\addlegendentry[text=vc1]{9}
\addlegendimage{vc5}\addlegendentry[text=vc5]{5}
\addlegendimage{vc9}\addlegendentry[text=vc9]{1}
\addlegendimage{vc2}\addlegendentry[text=vc2]{8}
\addlegendimage{vc6}\addlegendentry[text=vc6]{4}
\addlegendimage{vc10}\addlegendentry[text=vc10]{0.5}
\addlegendimage{vc3}\addlegendentry[text=vc3]{7}
\addlegendimage{vc7}\addlegendentry[text=vc7]{3}
\node[anchor=west, font=\legt, inner sep=0pt] at (rel axis cs:0.173,0.684) {j value};
\end{axis}
\begin{axis}[at={(457.5pt,256.5pt)}, anchor=south west, width=153.5pt, height=41.5pt,
  xmode=log, xmin=0.001, xmax=0.306, yticklabel style={rssmall},
  ymode=log, ymin=0.0282, ymax=35.5, ytick={0.1,1,10}, xtick pos=both, ytick pos=left]
\shadeband{1e-4}{10}
\curvesC
\end{axis}

% ===== (d) =====
\begin{axis}[at={(51pt,83.5pt)}, anchor=south west, width=153pt, height=115.5pt,
  xmode=log, xmin=0.72, xmax=1175,
  ymode=log, ymin=6.3e-4, ymax=2.5e28, ytick={1,1e14,1e28}, yminorticks=false,
  xtick pos=left, ytick pos=left, xticklabels={},
  legend style={at={(0.183,0.83)}, anchor=north west},
  legend image code/.code={\draw[mark repeat=2, mark phase=2, #1] plot coordinates {(0pt,0pt) (5pt,0pt) (10pt,0pt)};}]
\shadeband{0.1}{1e4}
\unitline{0.1}{1e4}
\markersD{j}{\tD}
\addlegendentry[text=purp]{$\tau=0.02$}
\addlegendentry[text=mint]{$\tau=0.5$}
\addlegendentry[text=orng]{$\tau=0.7$}
\node[anchor=west, font=\legt, inner sep=0pt] at (rel axis cs:0.065,0.89) {Step Size ($2\pi g^{-1}$)};
\end{axis}
\begin{axis}[at={(51pt,34.5pt)}, anchor=south west, width=153pt, height=40.5pt,
  xmode=log, xmin=0.72, xmax=1175, yticklabel style={rssmall},
  ymode=log, ymin=0.0282, ymax=35.5, ytick={0.1,1,10}, xtick pos=both, ytick pos=left]
\shadeband{0.1}{1e4}
\unitline{0.1}{1e4}
\markersD{j}{\tD}
\end{axis}

% ===== (e) =====
\begin{axis}[at={(254pt,83.5pt)}, anchor=south west, width=154pt, height=115.5pt,
  xmin=1.68, xmax=9.3, xtick={2,...,9},
  ymode=log, ymin=6.3e-4, ymax=2.5e28, ytick={1,1e14,1e28}, yminorticks=false,
  xtick pos=left, ytick pos=left, xticklabels={},
  legend style={at={(0.549,0.52)}, anchor=north west},
  legend image code/.code={\draw[mark repeat=2, mark phase=2, #1] plot coordinates {(0pt,0pt) (5pt,0pt) (10pt,0pt)};}]
\shadeband{0}{12}
\unitline{0}{12}
\markersD{q}{\tE}
\addlegendentry[text=purp]{$\tau=0.01$}
\addlegendentry[text=mint]{$\tau=0.2$}
\addlegendentry[text=orng]{$\tau=0.5$}
\node[anchor=west, font=\legt, inner sep=0pt] at (rel axis cs:0.435,0.584) {Step Size ($2\pi g^{-1}$)};
\end{axis}
\begin{axis}[at={(254pt,34.5pt)}, anchor=south west, width=154pt, height=40.5pt,
  xmin=1.68, xmax=9.3, xtick={2,...,9}, yticklabel style={rssmall},
  ymode=log, ymin=0.0282, ymax=35.5, ytick={0.1,1,10}, xtick pos=both, ytick pos=left]
\shadeband{0}{12}
\unitline{0}{12}
\markersD{q}{\tE}
\end{axis}

% ===== (f) =====
\begin{axis}[at={(457pt,83.5pt)}, anchor=south west, width=154.5pt, height=115.5pt,
  xmin=0.25, xmax=10.33, xtick={1,...,10}, minor xtick={0.5,1.5,...,9.5}, minor tick length=4.5pt,
  ymode=log, ymin=6.3e-4, ymax=2.5e28, ytick={1,1e14,1e28}, yminorticks=false,
  xtick pos=left, ytick pos=left, xticklabels={},
  legend style={at={(0.534,0.645)}, anchor=north west},
  legend image code/.code={\draw[mark repeat=2, mark phase=2, #1] plot coordinates {(0pt,0pt) (5pt,0pt) (10pt,0pt)};}]
\shadeband{0}{12}
\unitline{0}{12}
\markersD{j}{\tF}
\addlegendentry[text=purp]{$\tau=0.01$}
\addlegendentry[text=mint]{$\tau=0.12$}
\addlegendentry[text=orng]{$\tau=0.14$}
\node[anchor=west, font=\legt, inner sep=0pt] at (rel axis cs:0.421,0.705) {Step Size ($2\pi g^{-1}$)};
\end{axis}
\begin{axis}[at={(457pt,34.5pt)}, anchor=south west, width=154.5pt, height=40.5pt,
  xmin=0.25, xmax=10.33, xtick={1,...,10}, minor xtick={0.5,1.5,...,9.5}, minor tick length=4.5pt,
  yticklabel style={rssmall},
  ymode=log, ymin=0.0282, ymax=35.5, ytick={0.1,1,10}, xtick pos=both, ytick pos=left]
\shadeband{0}{12}
\unitline{0}{12}
\markersD{j}{\tF}
\end{axis}

% ===== titles and labels =====
\node[anchor=base west, font=\lab, inner sep=0pt] at (52.5pt,429pt) {(a) A2A-Ising};
\node[anchor=base west, font=\lab, inner sep=0pt] at (255pt,429pt) {(b) Heisenberg};
\node[anchor=base west, font=\lab, inner sep=0pt] at (458.3pt,429pt) {(c) Dicke};
\node[anchor=base west, font=\lab, inner sep=0pt] at (52.5pt,205pt) {(d) A2A-Ising};
\node[anchor=base west, font=\lab, inner sep=0pt] at (255pt,205pt) {(e) Heisenberg};
\node[anchor=base west, font=\lab, inner sep=0pt] at (458.3pt,205pt) {(f) Dicke};
\node[rotate=90, font=\lab] at (15pt,363pt) {$X^2_{\mathrm{RMT}}$};
\node[rotate=90, font=\lab] at (15pt,141.5pt) {$X^2_{\mathrm{RMT}}$};
\node[anchor=base, font=\lab, inner sep=0pt] at (127.75pt,226.5pt) {Step Size ($2\pi g^{-1}$)};
\node[anchor=base, font=\lab, inner sep=0pt] at (331pt,226.5pt) {Step Size ($2\pi g^{-1}$)};
\node[anchor=base, font=\lab, inner sep=0pt] at (534.25pt,226.5pt) {Step Size ($2\pi g^{-1}$)};
\node[anchor=base, font=\lab, inner sep=0pt] at (127.5pt,6pt) {j value};
\node[anchor=base, font=\lab, inner sep=0pt] at (331pt,6pt) {Qubit \#};
\node[anchor=base, font=\lab, inner sep=0pt] at (534.25pt,6pt) {j value};
\end{tikzpicture}
\end{document}
